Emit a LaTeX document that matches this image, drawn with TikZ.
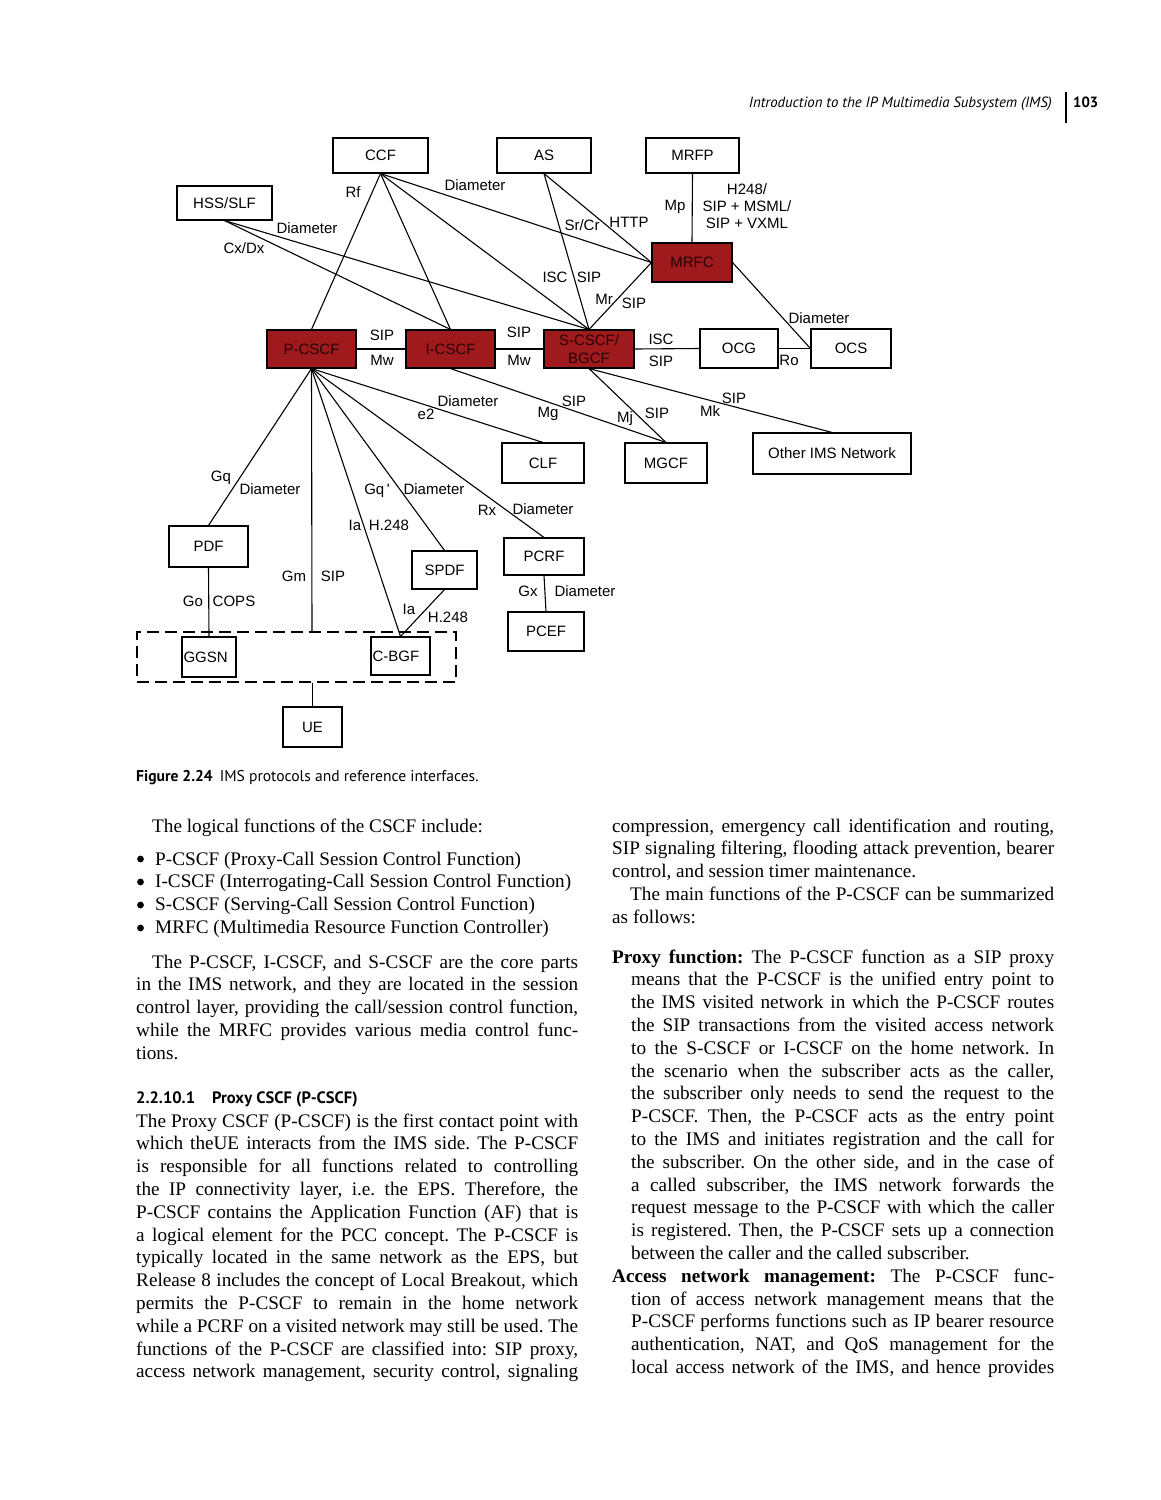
\documentclass[tikz,border=0pt]{standalone}
\usepackage{fontspec}
\setmainfont{Liberation Serif}
\newfontfamily\diagsans{Liberation Sans}
\newfontfamily\pagesans{PT Sans}
\definecolor{imsred}{RGB}{158,26,29}
\definecolor{imsdark}{RGB}{40,2,4}
\newcommand\diagfont{\diagsans\fontsize{15}{18}\selectfont}
\newcommand\bodyfont{\fontsize{19.2}{22.8}\selectfont\frenchspacing}
\newcommand\pjl[1]{\hbox to\hsize{#1}}
\newcommand\pnl[1]{\hbox{#1}}
\newcommand\phl[1]{\hbox to\hsize{\hskip19pt\relax #1}}
\newcommand\phn[1]{\hbox{\hskip19pt\relax #1}}
\tikzset{
  box/.style={draw=black, line width=1.1pt, fill=white, inner sep=0pt, font=\diagfont, align=center},
  redbox/.style={box, fill=imsred, text=black},
  lbl/.style={inner sep=0pt, font=\diagfont, text height=11pt, text depth=3pt},
  link/.style={line width=1.1pt, draw=black},
  txt/.style={anchor=base west, inner sep=0pt},
  bulletdot/.style={fill=black},
}
\begin{document}
\begin{tikzpicture}[x=1pt,y=-1pt]
\useasboundingbox (0,0) rectangle (1161,1500);
\fill[white] (0,0) rectangle (1161,1500);

% ---------- running head ----------
\node[anchor=base east, inner sep=0pt] (head) at (1052,107) {\pagesans\itshape\fontsize{14.8}{16}\selectfont Introduction to the IP Multimedia Subsystem (IMS)};
\coordinate (bartop) at (1066,92);
\coordinate (barbot) at (1066,123);
\draw[line width=1.6pt] (bartop) -- (barbot);
\node[txt] (pageno) at (1073,107) {\pagesans\bfseries\fontsize{14.8}{16}\selectfont 103};

% ---------- diagram boxes ----------
\node[box, dashed, dash pattern=on 12pt off 6pt, line width=2.4pt, fill=none, minimum width=319, minimum height=50] (access) at (296.5,657) {};
\node[box, minimum width=95, minimum height=35] (ccf) at (380.5,155.5) {CCF};
\node[box, minimum width=94, minimum height=35] (as) at (544,155.5) {AS};
\node[box, minimum width=93, minimum height=35] (mrfp) at (692.5,155.5) {MRFP};
\node[box, minimum width=95, minimum height=34] (hss) at (224.5,203) {HSS/SLF};
\node[redbox, minimum width=80, minimum height=39] (mrfc) at (692,262.5) {\color{imsdark}MRFC};
\node[redbox, minimum width=89, minimum height=38] (pcscf) at (311.5,349) {\color{imsdark}P-CSCF};
\node[redbox, minimum width=89, minimum height=38] (icscf) at (450.5,349) {\color{imsdark}I-CSCF};
\node[redbox, minimum width=90, minimum height=38, font=\diagsans\fontsize{15}{18}\selectfont] (scscf) at (589,349) {\color{imsdark}S-CSCF/\\\color{imsdark}BGCF};
\node[box, minimum width=78, minimum height=39] (ocg) at (739,348.5) {OCG};
\node[box, minimum width=80, minimum height=39] (ocs) at (851,348.5) {OCS};
\node[box, minimum width=82, minimum height=40] (clf) at (543,463) {CLF};
\node[box, minimum width=82, minimum height=40] (mgcf) at (666,463) {MGCF};
\node[box, minimum width=158, minimum height=41] (other) at (832,453.5) {Other IMS Network};
\node[box, minimum width=79, minimum height=41] (pdf) at (208.5,546.5) {PDF};
\node[box, minimum width=65, minimum height=38] (spdf) at (444.5,570) {SPDF};
\node[box, minimum width=80, minimum height=37] (pcrf) at (544,556.5) {PCRF};
\node[box, minimum width=76, minimum height=39] (pcef) at (546,631.5) {PCEF};
\node[box, minimum width=54, minimum height=40, text width=51, inner xsep=1.5pt, align=left] (ggsn) at (209,657) {GGSN};
\node[box, minimum width=59, minimum height=38, text width=56, inner xsep=1.5pt, align=left] (cbgf) at (400.5,656) {C-BGF};
\node[box, minimum width=59, minimum height=40] (ue) at (312.5,727) {UE};
\coordinate (gmend) at (312,632);

% ---------- connectors ----------
\draw[link] (ccf.south) -- (pcscf.north);
\draw[link] (ccf.south) -- (icscf.north);
\draw[link] (ccf.south) -- (scscf.north);
\draw[link] (ccf.south) -- (mrfc.west);
\draw[link] (hss.south) -- (icscf.north);
\draw[link] (hss.south) -- (scscf.north);
\draw[link] (as.south) -- (scscf.north);
\draw[link] (as.south) -- (mrfc.west);
\draw[link] (mrfp.south) -- (mrfc.north);
\draw[link] (mrfc.west) -- (scscf.north);
\draw[link] (mrfc.east) -- (ocs.west);
\draw[link] (pcscf.east) -- (icscf.west);
\draw[link] (icscf.east) -- (scscf.west);
\draw[link] (scscf.east) -- (ocg.west);
\draw[link] (ocg.east) -- (ocs.west);
\draw[link] (scscf.south) -- (mgcf.north);
\draw[link] (scscf.south) -- (other.north);
\draw[link] (icscf.south) -- (mgcf.north);
\draw[link] (pcscf.south) -- (clf.north);
\draw[link] (pcscf.south) -- (pcrf.north);
\draw[link] (pcscf.south) -- (spdf.north);
\draw[link] (pcscf.south) -- (cbgf.north);
\draw[link] (pcscf.south) -- (gmend);
\draw[link] (pcscf.south) -- (pdf.north);
\draw[link] (spdf.south) -- (cbgf.north);
\draw[link] (pdf.south) -- (ggsn.north);
\draw[link] (pcrf.south) -- (pcef.north);
\draw[link] (access.south -| ue.north) -- (ue.north);

% ---------- connector labels ----------
\node[lbl] (l1) at (353,193) {Rf};
\node[lbl] (l2) at (475,186) {Diameter};
\node[lbl] (l3) at (307,229) {Diameter};
\node[lbl] (l4) at (244,249) {Cx/Dx};
\node[lbl] (l5) at (582,226) {Sr/Cr};
\node[lbl] (l6) at (629,223) {HTTP};
\node[lbl] (l7) at (675,206) {Mp};
\node[inner sep=0pt, font=\diagsans\fontsize{15}{17}\selectfont, align=center] (l8) at (747,206) {H248/\\SIP + MSML/\\SIP + VXML};
\node[lbl] (l9) at (555,278) {ISC};
\node[lbl] (l10) at (589,278) {SIP};
\node[lbl] (l11) at (604,300) {Mr};
\node[lbl] (l12) at (634,304) {SIP};
\node[lbl] (l13) at (819,319) {Diameter};
\node[lbl] (l14) at (382,336) {SIP};
\node[lbl] (l15) at (382,361) {Mw};
\node[lbl] (l16) at (519,333) {SIP};
\node[lbl] (l17) at (519,361) {Mw};
\node[lbl] (l18) at (661,340) {ISC};
\node[lbl] (l19) at (661,362) {SIP};
\node[lbl] (l20) at (789,361) {Ro};
\node[lbl] (l21) at (468,402) {Diameter};
\node[lbl] (l22) at (426,415) {e2};
\node[lbl] (l23) at (548,413) {Mg};
\node[lbl] (l24) at (574,402) {SIP};
\node[lbl] (l25) at (625,418) {Mj};
\node[lbl] (l26) at (657,414) {SIP};
\node[lbl] (l27) at (710,412) {Mk};
\node[lbl] (l28) at (734,399) {SIP};
\node[lbl] (l29) at (221,477) {Gq};
\node[lbl] (l30) at (270,490) {Diameter};
\node[lbl] (l31) at (377,490) {Gq\,'};
\node[lbl] (l32) at (434,490) {Diameter};
\node[lbl] (l33) at (355,526) {Ia};
\node[lbl] (l34) at (389,526) {H.248};
\node[lbl] (l35) at (487,511) {Rx};
\node[lbl] (l36) at (543,510) {Diameter};
\node[lbl] (l37) at (294,577) {Gm};
\node[lbl] (l38) at (333,577) {SIP};
\node[lbl] (l39) at (409,610) {Ia};
\node[lbl] (l40) at (448,618) {H.248};
\node[lbl] (l41) at (193,602) {Go};
\node[lbl] (l42) at (234,602) {COPS};
\node[lbl] (l43) at (528,592) {Gx};
\node[lbl] (l44) at (585,592) {Diameter};

% ---------- caption ----------
\node[txt] (caption) at (136,781) {\pagesans\fontsize{15.6}{17}\selectfont\textbf{Figure 2.24}\hspace{7pt}IMS protocols and reference interfaces.};

% ---------- left column ----------
\node[txt] (lt1) at (152,832) {\bodyfont The logical functions of the CSCF include:};
\foreach \by in {865,888,911,934} \fill[bulletdot] (140.5,\by-6) circle (3.4pt);
\node[txt] (lt2) at (155,865) {\vtop{\bodyfont\hsize=423pt
\pnl{P-CSCF (Proxy-Call Session Control Function)}
\pnl{I-CSCF (Interrogating-Call Session Control Function)}
\pnl{S-CSCF (Serving-Call Session Control Function)}
\pnl{MRFC (Multimedia Resource Function Controller)}}};
\node[txt] (lt3) at (136,968) {\vtop{\bodyfont\hsize=442pt
\pjl{\hskip16pt\relax The P-CSCF, I-CSCF, and S-CSCF are the core parts}
\pjl{in the IMS network, and they are located in the session}
\pjl{control layer, providing the call/session control function,}
\pjl{while the MRFC provides various media control func-}
\pnl{tions.}}};
\node[txt] (lt4) at (136,1103) {\pagesans\bfseries\fontsize{16.5}{18}\selectfont\makebox[76pt][l]{2.2.10.1}Proxy CSCF (P-CSCF)};
\node[txt] (lt5) at (136,1127) {\vtop{\bodyfont\hsize=442pt
\pjl{The Proxy CSCF (P-CSCF) is the first contact point with}
\pjl{which theUE interacts from the IMS side. The P-CSCF}
\pjl{is responsible for all functions related to controlling}
\pjl{the IP connectivity layer, i.e. the EPS. Therefore, the}
\pjl{P-CSCF contains the Application Function (AF) that is}
\pjl{a logical element for the PCC concept. The P-CSCF is}
\pjl{typically located in the same network as the EPS, but}
\pjl{Release 8 includes the concept of Local Breakout, which}
\pjl{permits the P-CSCF to remain in the home network}
\pjl{while a PCRF on a visited network may still be used. The}
\pjl{functions of the P-CSCF are classified into: SIP proxy,}
\pjl{access network management, security control, signaling}}};

% ---------- right column ----------
\node[txt] (rt1) at (612,832) {\vtop{\bodyfont\hsize=442pt
\pjl{compression, emergency call identification and routing,}
\pjl{SIP signaling filtering, flooding attack prevention, bearer}
\pnl{control, and session timer maintenance.}
\pjl{\hskip18pt\relax The main functions of the P-CSCF can be summarized}
\pnl{as follows:}}};
\node[txt] (rt2) at (612,963) {\vtop{\bodyfont\hsize=442pt
\pjl{\textbf{Proxy function:} The P-CSCF function as a SIP proxy}
\phl{means that the P-CSCF is the unified entry point to}
\phl{the IMS visited network in which the P-CSCF routes}
\phl{the SIP transactions from the visited access network}
\phl{to the S-CSCF or I-CSCF on the home network. In}
\phl{the scenario when the subscriber acts as the caller,}
\phl{the subscriber only needs to send the request to the}
\phl{P-CSCF. Then, the P-CSCF acts as the entry point}
\phl{to the IMS and initiates registration and the call for}
\phl{the subscriber. On the other side, and in the case of}
\phl{a called subscriber, the IMS network forwards the}
\phl{request message to the P-CSCF with which the caller}
\phl{is registered. Then, the P-CSCF sets up a connection}
\phn{between the caller and the called subscriber.}
\pjl{\textbf{Access network management:} The P-CSCF func-}
\phl{tion of access network management means that the}
\phl{P-CSCF performs functions such as IP bearer resource}
\phl{authentication, NAT, and QoS management for the}
\phl{local access network of the IMS, and hence provides}}};
\end{tikzpicture}
\end{document}
